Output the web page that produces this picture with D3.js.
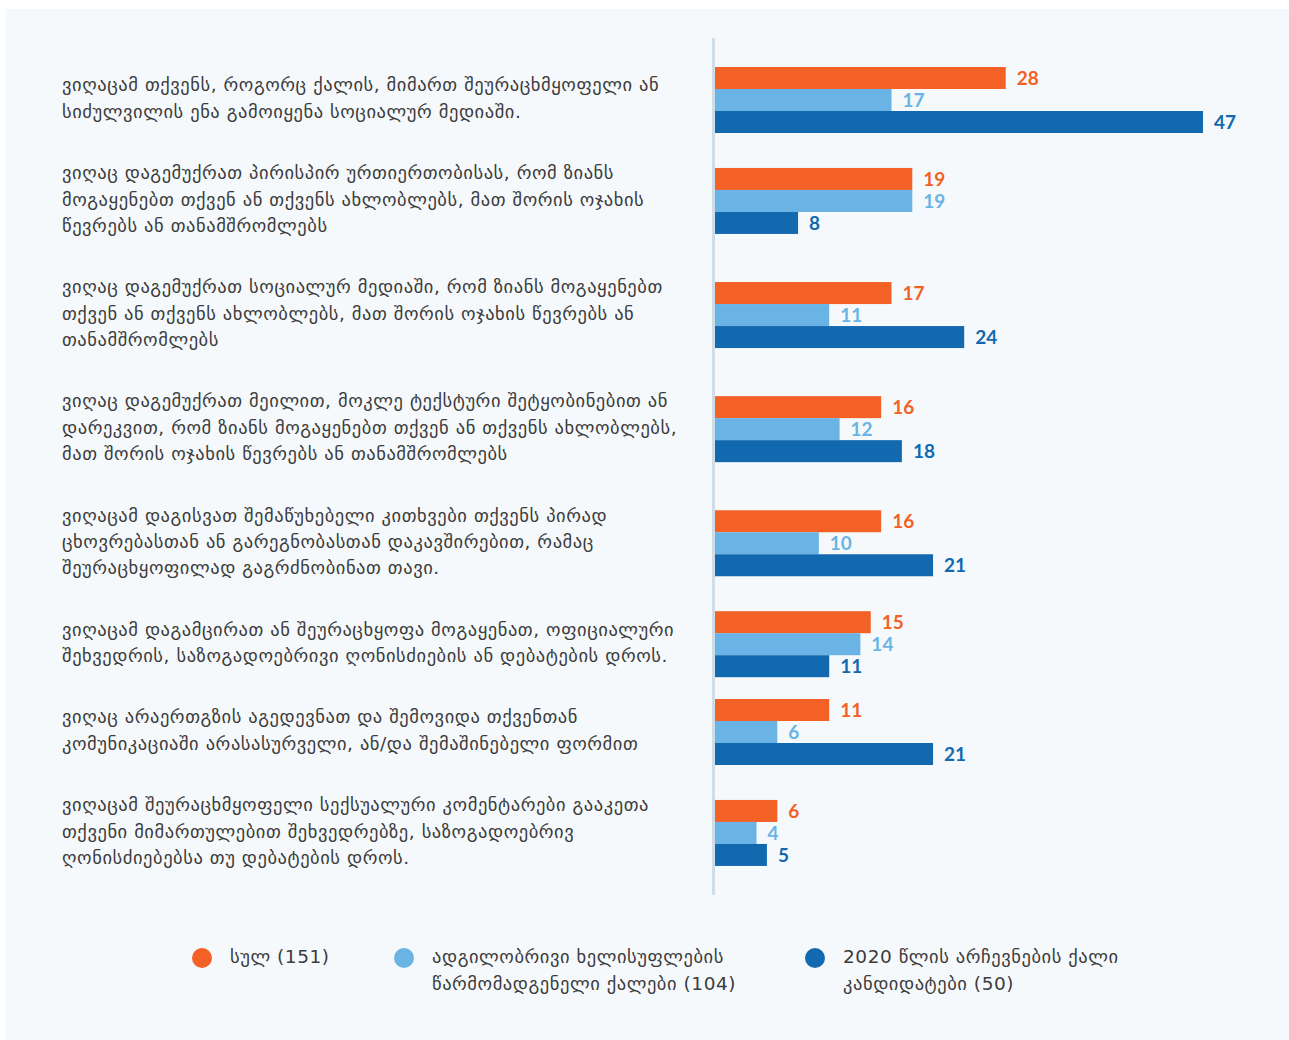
<!DOCTYPE html>
<html lang="ka">
<head>
<meta charset="utf-8">
<title>Harassment chart</title>
<script src="https://d3js.org/d3.v7.min.js"></script>
<style>
  body { margin: 0; background: #ffffff; }
  svg { display: block; }
</style>
</head>
<body>
<div id="chart"></div>
<script>
// categories (each entry = wrapped lines of the label)
var categories = [
  ["ვიღაცამ თქვენს, როგორც ქალის, მიმართ შეურაცხმყოფელი ან", "სიძულვილის ენა გამოიყენა სოციალურ მედიაში."],
  ["ვიღაც დაგემუქრათ პირისპირ ურთიერთობისას, რომ ზიანს", "მოგაყენებთ თქვენ ან თქვენს ახლობლებს, მათ შორის ოჯახის", "წევრებს ან თანამშრომლებს"],
  ["ვიღაც დაგემუქრათ სოციალურ მედიაში, რომ ზიანს მოგაყენებთ", "თქვენ ან თქვენს ახლობლებს, მათ შორის ოჯახის წევრებს ან", "თანამშრომლებს"],
  ["ვიღაც დაგემუქრათ მეილით, მოკლე ტექსტური შეტყობინებით ან", "დარეკვით, რომ ზიანს მოგაყენებთ თქვენ ან თქვენს ახლობლებს,", "მათ შორის ოჯახის წევრებს ან თანამშრომლებს"],
  ["ვიღაცამ დაგისვათ შემაწუხებელი კითხვები თქვენს პირად", "ცხოვრებასთან ან გარეგნობასთან დაკავშირებით, რამაც", "შეურაცხყოფილად გაგრძნობინათ თავი."],
  ["ვიღაცამ დაგამცირათ ან შეურაცხყოფა მოგაყენათ, ოფიციალური", "შეხვედრის, საზოგადოებრივი ღონისძიების ან დებატების დროს."],
  ["ვიღაც არაერთგზის აგედევნათ და შემოვიდა თქვენთან", "კომუნიკაციაში არასასურველი, ან/და შემაშინებელი ფორმით"],
  ["ვიღაცამ შეურაცხმყოფელი სექსუალური კომენტარები გააკეთა", "თქვენი მიმართულებით შეხვედრებზე, საზოგადოებრივ", "ღონისძიებებსა თუ დებატების დროს."]
];

var totalValues = [28, 19, 17, 16, 16, 15, 11, 6];
var localValues = [17, 19, 11, 12, 10, 14, 6, 4];
var candidateValues = [47, 8, 24, 18, 21, 11, 21, 5];

var seriesNames = [
  ["სულ (151)"],
  ["ადგილობრივი ხელისუფლების", "წარმომადგენელი ქალები (104)"],
  ["2020 წლის არჩევნების ქალი", "კანდიდატები (50)"]
];
var seriesColors = ["#f36126", "#69b4e4", "#1369b0"];

var w = 1289, h = 1040;
var lineH = 26.3;
var rowGap = 35.2;
var barH = 22;
var labelX = 62;
var labelFont = "'DejaVu Sans', sans-serif";
var labelSize = 18.5;
var labelSpacing = 0.55;

var svg = d3.select("#chart").append("svg")
  .attr("width", w)
  .attr("height", h);

// panel
svg.append("rect")
  .attr("x", 5).attr("y", 9)
  .attr("width", w - 5).attr("height", h - 9)
  .attr("fill", "#f5f9fc");

// row centres from label line counts
var rows = [];
var cy = 100;
categories.forEach(function(lines, i) {
  if (i > 0) {
    cy += (categories[i - 1].length * lineH) / 2 + rowGap + (lines.length * lineH) / 2;
  }
  rows.push({
    lines: lines,
    center: cy,
    values: [totalValues[i], localValues[i], candidateValues[i]]
  });
});

var x = d3.scaleLinear()
  .domain([0, 47])
  .range([715, 1203]);

var inner = d3.scaleBand()
  .domain([0, 1, 2])
  .range([-barH * 1.5, barH * 1.5])
  .paddingInner(0);

// axis line
svg.append("line")
  .attr("x1", 713.5).attr("x2", 713.5)
  .attr("y1", 38).attr("y2", 895)
  .attr("stroke", "#cfdde8")
  .attr("stroke-width", 3);

// labels
var lbl = svg.selectAll(".cat")
  .data(rows)
  .enter().append("text")
    .attr("class", "cat")
    .attr("font-family", labelFont)
    .attr("font-size", labelSize)
    .attr("letter-spacing", labelSpacing)
    .attr("fill", "#3c3c3c");

lbl.selectAll("tspan")
  .data(function(d) {
    return d.lines.map(function(t, j) {
      return { t: t, y: d.center + (j - (d.lines.length - 1) / 2) * lineH };
    });
  })
  .enter().append("tspan")
    .attr("x", labelX)
    .attr("y", function(d) { return d.y; })
    .attr("dy", "0.25em")
    .text(function(d) { return d.t; });

// bars
var group = svg.selectAll(".grp")
  .data(rows)
  .enter().append("g")
    .attr("class", "grp")
    .attr("transform", function(d) { return "translate(0," + d.center + ")"; });

var cell = group.selectAll(".cell")
  .data(function(d) { return d.values.map(function(v, k) { return { v: v, k: k }; }); })
  .enter().append("g")
    .attr("class", "cell");

cell.append("rect")
  .attr("x", x(0))
  .attr("y", function(d) { return inner(d.k); })
  .attr("width", function(d) { return x(d.v) - x(0); })
  .attr("height", inner.bandwidth())
  .attr("fill", function(d) { return seriesColors[d.k]; });

cell.append("text")
  .attr("x", function(d) { return x(d.v) + 11; })
  .attr("y", function(d) { return inner(d.k) + inner.bandwidth() / 2; })
  .attr("dy", "0.36em")
  .attr("font-family", "Lato, 'Open Sans', sans-serif")
  .attr("font-weight", "bold")
  .attr("font-size", 19)
  .attr("fill", function(d) { return seriesColors[d.k]; })
  .text(function(d) { return d.v; });

// legend
var legendX = [202, 404, 815];
var leg = svg.selectAll(".leg")
  .data(seriesNames)
  .enter().append("g")
    .attr("class", "leg")
    .attr("transform", function(d, i) { return "translate(" + legendX[i] + ",958)"; });

leg.append("circle")
  .attr("r", 10)
  .attr("fill", function(d, i) { return seriesColors[i]; });

var legText = leg.append("text")
  .attr("font-family", labelFont)
  .attr("font-size", labelSize)
  .attr("letter-spacing", labelSpacing)
  .attr("fill", "#3c3c3c");

legText.selectAll("tspan")
  .data(function(d) { return d; })
  .enter().append("tspan")
    .attr("x", 28)
    .attr("y", function(d, j) { return j * 27; })
    .attr("dy", "0.25em")
    .text(function(d) { return d; });
</script>
</body>
</html>
